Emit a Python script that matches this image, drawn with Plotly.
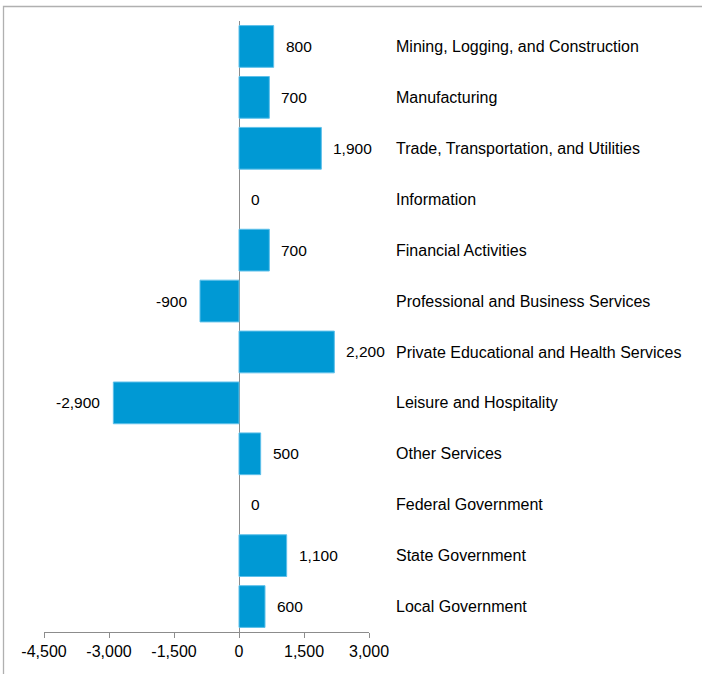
import plotly.graph_objects as go

categories = [
    "Mining, Logging, and Construction",
    "Manufacturing",
    "Trade, Transportation, and Utilities",
    "Information",
    "Financial Activities",
    "Professional and Business Services",
    "Private Educational and Health Services",
    "Leisure and Hospitality",
    "Other Services",
    "Federal Government",
    "State Government",
    "Local Government",
]
values = [800, 700, 1900, 0, 700, -900, 2200, -2900, 500, 0, 1100, 600]
tick_values = [-4500, -3000, -1500, 0, 1500, 3000]
tick_labels = ["-4,500", "-3,000", "-1,500", "0", "1,500", "3,000"]

FONT = "Liberation Sans, Arial, sans-serif"


def fmt(v):
    s = f"{abs(v):,}"
    return ("-" + s) if v < 0 else s


fig = go.Figure()
fig.add_trace(go.Bar(
    x=values,
    y=list(range(len(categories))),
    orientation="h",
    width=0.82,
    marker=dict(color="#0099d4",
                line=dict(color="#5ec0ea", width=[1 if v != 0 else 0 for v in values])),
    hoverinfo="skip",
))

for i, v in enumerate(values):
    fig.add_annotation(
        x=v, y=i, xref="x", yref="y",
        text=fmt(v), showarrow=False,
        xanchor="right" if v < 0 else "left",
        xshift=-11 if v < 0 else 10,
        font=dict(family=FONT, size=15.5, color="#000000"),
    )

fig.add_shape(
    type="rect", xref="paper", yref="paper",
    x0=-0.1246, x1=3.0, y0=-0.5, y1=1.0237,
    line=dict(color="#b0b0b0", width=1.3), fillcolor="rgba(0,0,0,0)",
    layer="below",
)

fig.update_layout(
    width=702, height=674,
    margin=dict(l=44, r=333, t=21, b=42),
    paper_bgcolor="white", plot_bgcolor="white",
    showlegend=False,
    xaxis=dict(
        range=[-4500, 3000],
        tickvals=tick_values, ticktext=tick_labels,
        showgrid=False,
        zeroline=True, zerolinecolor="#8c8c8c", zerolinewidth=1,
        showline=True, linecolor="#8c8c8c", linewidth=1,
        ticks="outside", ticklen=5, tickcolor="#8c8c8c", tickwidth=1,
        tickfont=dict(family=FONT, size=16, color="#000000"),
        fixedrange=True,
    ),
    yaxis=dict(
        range=[11.5, -0.5],
        tickvals=list(range(len(categories))), ticktext=categories,
        side="right",
        showgrid=False, zeroline=False, showline=False,
        ticks="", ticklabelstandoff=26,
        tickfont=dict(family=FONT, size=16, color="#000000"),
        fixedrange=True,
    ),
)

fig.write_html(
    "out.html",
    config={"displayModeBar": False},
    post_script="document.body.style.margin='0';document.body.style.overflow='hidden';",
)
